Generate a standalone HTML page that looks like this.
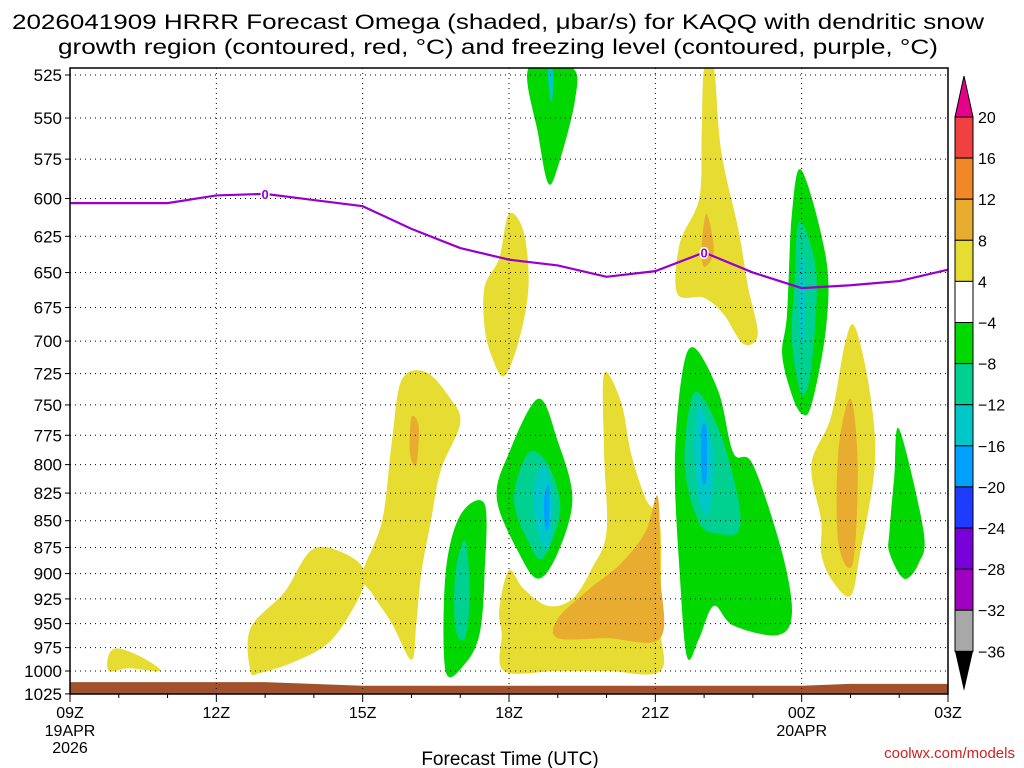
<!DOCTYPE html>
<html><head><meta charset="utf-8"><style>
body{margin:0;background:#fff;}
svg{display:block;font-family:"Liberation Sans",sans-serif;}
</style></head><body>
<svg id="c" width="1024" height="768" xmlns="http://www.w3.org/2000/svg">
<text x="498" y="29" font-size="21" text-anchor="middle" textLength="972" lengthAdjust="spacingAndGlyphs">2026041909 HRRR Forecast Omega (shaded, μbar/s) for KAQQ with dendritic snow</text>
<text x="498" y="54" font-size="21" text-anchor="middle" textLength="880" lengthAdjust="spacingAndGlyphs">growth region (contoured, red, °C) and freezing level (contoured, purple, °C)</text>
<g id="fills"></g>
<g id="grid"></g>
<g id="fz"></g>
<g id="axes"></g>
<g id="cbar"></g>
<text x="510" y="765" font-size="19" text-anchor="middle">Forecast Time (UTC)</text>
<text x="1015" y="758" font-size="15" text-anchor="end" fill="#d02020">coolwx.com/models</text>
</svg>
<script>
const pLevels=[525,550,575,600,625,650,675,700,725,750,775,800,825,850,875,900,925,950,975,1000,1025];
const xTickHours=[0,3,6,9,12,15,18];
const xTickLabels=["09Z","12Z","15Z","18Z","21Z","00Z","03Z"];
const fzHours=[0,2,3,4,5,6,7,8,9,10,11,12,13,14,15,16,17,18];
const fzPressure=[603,603,598,597,601,605,620,633,641,645,653,649,636,650,661,659,656,648];
const fzLabelHours=[4,13];
const cbLevels=[20,16,12,8,4,-4,-8,-12,-16,-20,-24,-28,-32,-36];
const cbColors=["#f04040","#f08828","#e8ac30","#e6dc32","#ffffff","#00d800","#00d090","#00c8c8","#00a0ff","#1e3cff","#7800d8","#a000c0","#a8a8a8"];
// shaded regions: [colorIndex, [[hour,pressure],...]]
const regions=[
[3,[[0.8,1000],[0.8,982],[1.0,976],[1.5,986],[1.85,1000],[1.2,997]]],
[3,[[3.7,1000],[3.7,955],[4.4,918],[5.0,876],[5.8,885],[6.05,905],[5.8,935],[5.3,970],[4.6,990],[3.9,1002]]],
[3,[[6.0,900],[6.4,850],[6.6,780],[6.8,730],[7.3,724],[7.8,745],[8.0,765],[7.6,805],[7.4,850],[7.2,900],[7.1,950],[7.0,988],[6.6,950],[6.2,920]]],
[2,[[7.0,760],[7.15,768],[7.1,800],[6.97,790]]],
[3,[[8.5,690],[8.5,660],[8.8,640],[9.0,610],[9.3,622],[9.4,660],[9.2,700],[8.9,727],[8.65,712]]],
[3,[[8.9,1000],[8.85,960],[8.8,935],[9.0,897],[9.3,915],[9.8,932],[10.3,925],[10.7,895],[11.0,860],[10.95,790],[10.95,725],[11.3,748],[11.5,790],[11.8,830],[12.1,855],[12.1,950],[12.1,1000],[11.0,1000],[10.0,1000]]],
[2,[[10.0,965],[10.0,945],[10.6,917],[11.3,890],[11.8,860],[12.05,828],[12.1,900],[12.1,965],[11.0,965]]],
[3,[[12.45,665],[12.5,630],[12.9,600],[12.95,560],[13.0,521],[13.2,521],[13.35,570],[13.7,620],[13.9,660],[14.1,695],[13.8,702],[13.4,680],[13.0,668]]],
[2,[[12.95,632],[13.05,610],[13.2,635],[13.0,646]]],
[3,[[15.4,850],[15.2,800],[15.6,760],[15.9,700],[16.1,690],[16.4,740],[16.5,800],[16.2,880],[16.0,922],[15.6,905],[15.4,880]]],
[2,[[15.75,870],[15.75,790],[16.0,745],[16.15,800],[16.05,890]]],
[5,[[9.4,521],[10.3,521],[10.35,540],[10.0,580],[9.8,590],[9.6,560]]],
[7,[[9.8,523],[9.9,523],[9.9,535],[9.85,540]]],
[5,[[7.7,1000],[7.7,900],[8.0,845],[8.5,835],[8.5,900],[8.4,960],[8.1,992]]],
[6,[[7.9,955],[7.9,900],[8.1,868],[8.2,920],[8.1,965]]],
[5,[[8.75,830],[9.0,790],[9.6,745],[10.0,780],[10.3,830],[10.0,880],[9.6,905],[9.2,880]]],
[6,[[9.1,830],[9.4,790],[9.8,800],[10.05,840],[9.7,885],[9.4,870]]],
[7,[[9.5,825],[9.7,800],[9.9,830],[9.8,875],[9.6,862]]],
[8,[[9.72,830],[9.82,818],[9.82,855],[9.74,855]]],
[5,[[12.4,800],[12.55,725],[12.8,705],[13.3,740],[13.6,790],[14.0,800],[14.6,880],[14.8,940],[14.5,962],[13.6,952],[13.2,932],[12.9,965],[12.65,985],[12.5,900]]],
[6,[[12.6,800],[12.8,740],[13.3,770],[13.7,830],[13.7,860],[13.3,862],[12.9,852]]],
[7,[[12.8,790],[12.9,750],[13.2,790],[13.1,842],[12.9,832]]],
[8,[[12.95,770],[13.05,770],[13.05,812],[12.95,812]]],
[5,[[14.7,680],[14.8,610],[15.0,582],[15.5,640],[15.5,690],[15.2,750],[15.0,757],[14.8,742],[14.6,710]]],
[6,[[14.85,660],[14.95,615],[15.3,650],[15.2,720],[15.0,742],[14.8,700]]],
[7,[[14.95,650],[15.05,640],[15.05,700],[14.95,690]]],
[5,[[16.8,860],[16.9,810],[17.0,770],[17.5,860],[17.4,890],[17.1,905],[16.8,880]]]
];
const terrainHours=[0,4,6,9,12,15,16,18];
const terrainP=[1012,1012,1016,1016,1016,1016,1014,1014];

const NS="http://www.w3.org/2000/svg";
const X0=70,X1=948,Y0=68,Y1=694;
const X=h=>X0+h*(X1-X0)/18;
const Y=p=>75+925*Math.log(p/525);
function mk(tag,attrs,parent){const e=document.createElementNS(NS,tag);for(const k in attrs)e.setAttribute(k,attrs[k]);parent.appendChild(e);return e;}
function smooth(pts){const n=pts.length;let d=`M${pts[0][0]},${pts[0][1]}`;
for(let i=0;i<n;i++){const p0=pts[(i-1+n)%n],p1=pts[i],p2=pts[(i+1)%n],p3=pts[(i+2)%n];
d+=`C${p1[0]+(p2[0]-p0[0])/6},${p1[1]+(p2[1]-p0[1])/6} ${p2[0]-(p3[0]-p1[0])/6},${p2[1]-(p3[1]-p1[1])/6} ${p2[0]},${p2[1]}`;}return d+"Z";}
const fills=document.getElementById('fills');
const cp=mk('clipPath',{id:'pc'},fills);
mk('rect',{x:X0,y:Y0,width:X1-X0,height:Y1-Y0},cp);
const fg=mk('g',{'clip-path':'url(#pc)'},fills);
regions.forEach((r,i)=>{const pts=r[1].map(q=>[X(q[0]),Y(q[1])]);
const el=mk('path',{d:smooth(pts),fill:cbColors[r[0]]},fg);

});
let td=`M${X(0)},${Y1}`;terrainHours.forEach((h,i)=>td+=`L${X(h)},${Y(terrainP[i])}`);td+=`L${X(18)},${Y1}Z`;
const ter=mk('path',{d:td,fill:'#a0522d'},fg);


const grid=document.getElementById('grid');
pLevels.forEach(p=>{if(p===1025)return;const g=mk('line',{x1:X0,x2:X1,y1:Y(p),y2:Y(p),stroke:'#000','stroke-width':1,'stroke-dasharray':'1,4'},grid);

});
xTickHours.forEach(h=>{if(h===0||h===18)return;const g=mk('line',{x1:X(h),x2:X(h),y1:Y0,y2:Y1,stroke:'#000','stroke-width':1,'stroke-dasharray':'1,4'},grid);

});
const fz=document.getElementById('fz');
const fpts=fzHours.map((h,i)=>[X(h),Y(fzPressure[i])]);
const fl=mk('polyline',{points:fpts.map(p=>p.join(',')).join(' '),fill:'none',stroke:'#9900cc','stroke-width':2.2},fz);


fzLabelHours.forEach(h=>{let i=fzHours.indexOf(h);const pv=i>=0?fzPressure[i]:600;
const t=mk('text',{x:X(h),y:Y(pv)+5,'font-size':13,'font-weight':'bold','text-anchor':'middle',fill:'#9900cc',stroke:'#fff','stroke-width':3,'paint-order':'stroke'},fz);t.textContent='0';

});
const ax=document.getElementById('axes');
const fr=mk('rect',{x:X0,y:Y0,width:X1-X0,height:Y1-Y0,fill:'none',stroke:'#000','stroke-width':1.5},ax);


pLevels.forEach(p=>{mk('line',{x1:X0-5,x2:X0,y1:Y(p),y2:Y(p),stroke:'#000'},ax);
const t=mk('text',{x:X0-8,y:Y(p)+6,'font-size':17,'text-anchor':'end'},ax);t.textContent=p;

});
for(let h=0;h<=18;h++)mk('line',{x1:X(h),x2:X(h),y1:Y1,y2:Y1+(h%3?4:8),stroke:'#000'},ax);
xTickHours.forEach((h,i)=>{const t=mk('text',{x:X(h),y:718,'font-size':16,'text-anchor':'middle'},ax);t.textContent=xTickLabels[i];

});
[["19APR",X(0),736],["2026",X(0),753],["20APR",X(15),736]].forEach(a=>{const t=mk('text',{x:a[1],y:a[2],'font-size':16,'text-anchor':'middle'},ax);t.textContent=a[0];

});
const cb=document.getElementById('cbar');
const CX=955,CW=18,CY=l=>117+(cbLevels.indexOf(l))*41.1;
const tt=mk('polygon',{points:`${CX},${CY(20)} ${CX+CW},${CY(20)} ${CX+CW/2},76`,fill:'#e8008a',stroke:'#000'},cb);


for(let i=0;i<cbColors.length;i++){const r=mk('rect',{x:CX,y:CY(cbLevels[i]),width:CW,height:41.1,fill:cbColors[i],stroke:'#000'},cb);

}
const bt=mk('polygon',{points:`${CX},${CY(-36)} ${CX+CW},${CY(-36)} ${CX+CW/2},691`,fill:'#000'},cb);


cbLevels.forEach(l=>{const t=mk('text',{x:978,y:CY(l)+6,'font-size':16},cb);t.textContent=l<0?'−'+(-l):l;

});
</script>
</body></html>
